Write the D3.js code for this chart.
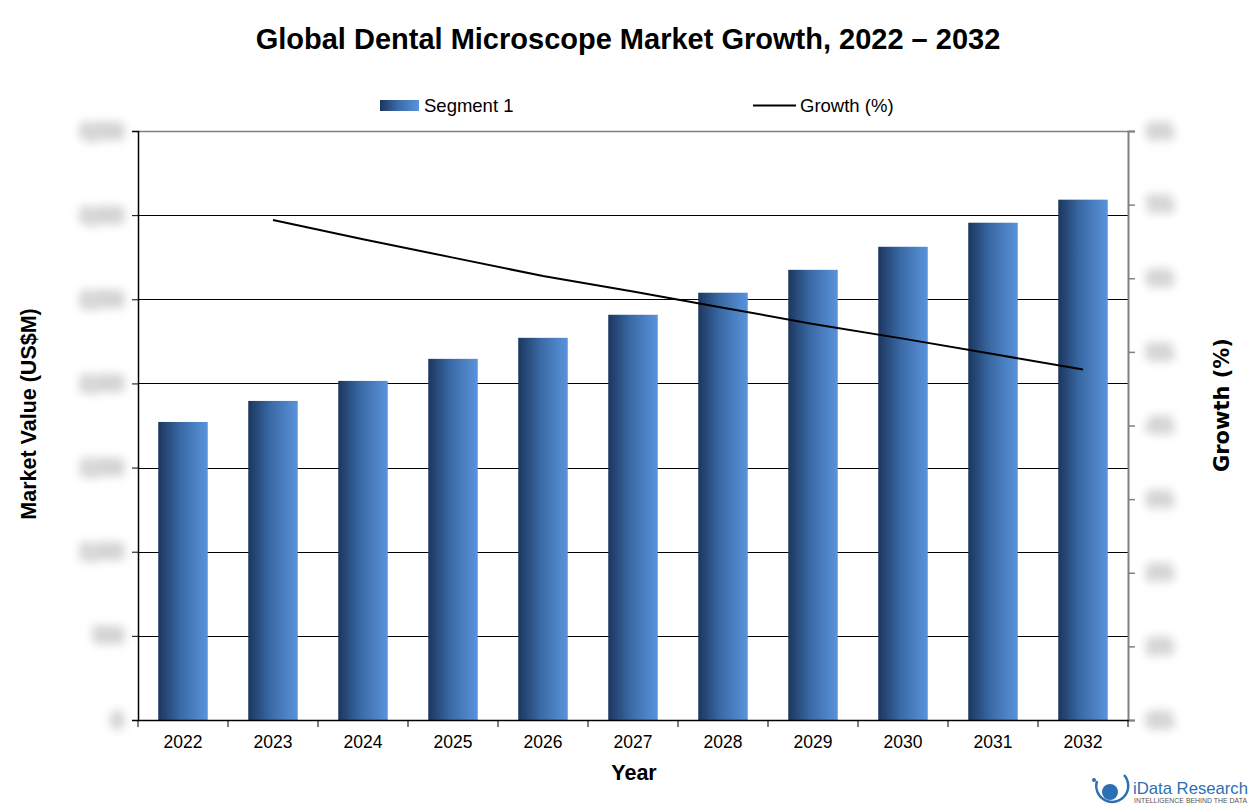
<!DOCTYPE html>
<html><head><meta charset="utf-8">
<script src="https://cdn.jsdelivr.net/npm/d3@7/dist/d3.min.js"></script>
<style>body{margin:0;background:#fff;} svg{display:block;}</style>
</head><body>
<script>
const years = ["2022","2023","2024","2025","2026","2027","2028","2029","2030","2031","2032"];
const marketValues = [1771,1896,2015,2146,2271,2408,2539,2675,2812,2955,3092];
const growthYears = ["2023","2024","2025","2026","2027","2028","2029","2030","2031","2032"];
const growthValues = [6.79,6.53,6.28,6.03,5.82,5.60,5.38,5.18,4.97,4.76];
const leftTicks = [0,500,1000,1500,2000,2500,3000,3500];
const rightTicks = [0,1,2,3,4,5,6,7,8];

const W = 1256, H = 810;
const m = {l:138, r:1128, t:131, b:720};
const svg = d3.select("body").append("svg").attr("width",W).attr("height",H);
const defs = svg.append("defs");
const grad = defs.append("linearGradient").attr("id","barGrad").attr("x1","0%").attr("x2","100%").attr("y1","0%").attr("y2","0%");
grad.append("stop").attr("offset","0%").attr("stop-color","#1b365f");
grad.append("stop").attr("offset","45%").attr("stop-color","#3a6aa6");
grad.append("stop").attr("offset","100%").attr("stop-color","#5a93dc");

const x = d3.scaleBand().domain(years).range([m.l,m.r]).paddingInner(0.45).paddingOuter(0.225);
const y = d3.scaleLinear().domain([0,3500]).range([m.b,m.t]);
const y2 = d3.scaleLinear().domain([0,8]).range([m.b,m.t]);

// title
svg.append("text").attr("x",628).attr("y",49).attr("text-anchor","middle")
  .style("font-family","Liberation Sans, Arial, sans-serif").style("font-weight","bold").style("font-size","29px")
  .text("Global Dental Microscope Market Growth, 2022 \u2013 2032");

// gridlines
svg.append("g").selectAll("line").data(leftTicks.slice(1,-1)).join("line")
  .attr("x1",m.l).attr("x2",m.r).attr("y1",d=>Math.round(y(d))+0.5).attr("y2",d=>Math.round(y(d))+0.5)
  .attr("stroke","#000").attr("stroke-width",1);
// top border
svg.append("line").attr("x1",m.l).attr("x2",m.r).attr("y1",m.t+0.5).attr("y2",m.t+0.5).attr("stroke","#808080").attr("stroke-width",1.5);

// bars
svg.append("g").selectAll("rect").data(years).join("rect")
  .attr("x",(d)=>x(d)).attr("width",x.bandwidth())
  .attr("y",(d,i)=>y(marketValues[i])).attr("height",(d,i)=>m.b-y(marketValues[i]))
  .attr("fill","url(#barGrad)");

// growth line
const line = d3.line().x((d,i)=>x(growthYears[i])+x.bandwidth()/2).y(d=>y2(d));
svg.append("path").datum(growthValues).attr("d",line).attr("fill","none").attr("stroke","#000").attr("stroke-width",2);

function smudge(sel){
  sel.attr("fill","#c9c9c9").attr("stroke","#dedede").attr("stroke-width",9)
    .attr("stroke-linejoin","round").attr("paint-order","stroke")
    .attr("font-size",16).attr("font-weight","bold").attr("font-family","Liberation Sans, Arial")
    .style("filter","blur(4px)");
}

// left axis
const ax = d3.axisLeft(y).tickValues(leftTicks).tickSize(6).tickFormat(d3.format(","));
const gl = svg.append("g").attr("transform",`translate(${m.l},0)`).call(ax);
gl.select(".domain").attr("stroke","#000").attr("stroke-width",1.5);
gl.selectAll(".tick line").attr("stroke","#000");
gl.selectAll(".tick text").attr("x",-16).attr("text-anchor","end").call(smudge);

// right axis
const ar = d3.axisRight(y2).tickValues(rightTicks).tickSize(7).tickFormat(d=>d+"%");
const gr = svg.append("g").attr("transform",`translate(${m.r},0)`).call(ar);
gr.select(".domain").attr("stroke","#808080").attr("stroke-width",2);
gr.selectAll(".tick line").attr("stroke","#808080").attr("stroke-width",1.5);
gr.selectAll(".tick text").attr("x",32).attr("text-anchor","middle").call(smudge);

// bottom axis
const ab = d3.axisBottom(x).tickSize(0);
const gb = svg.append("g").attr("transform",`translate(0,${m.b})`).call(ab);
gb.select(".domain").attr("stroke","#000").attr("stroke-width",1.5);
gb.selectAll(".tick text").attr("dy","1.45em").attr("fill","#000")
  .attr("font-family","Liberation Sans, Arial").attr("font-size",17.5);
const bounds = years.map(d=>x(d)-x.step()*x.paddingInner()/2).concat([m.r]);
gb.selectAll(".sep").data(bounds).join("line").attr("class","sep")
  .attr("x1",d=>d).attr("x2",d=>d).attr("y1",0).attr("y2",7).attr("stroke","#000");

// axis titles
svg.append("text").attr("x",634).attr("y",780).attr("text-anchor","middle")
  .style("font-family","Liberation Sans, Arial").style("font-weight","bold").style("font-size","21.5px").text("Year");
svg.append("text").attr("transform","translate(36,414) rotate(-90)").attr("text-anchor","middle")
  .style("font-family","Liberation Sans, Arial").style("font-weight","bold").style("font-size","21.5px").text("Market Value (US$M)");
svg.append("text").attr("transform","translate(1229,405) rotate(-90)").attr("text-anchor","middle")
  .style("font-family","DejaVu Sans, Verdana").style("font-weight","bold").style("font-size","21px").text("Growth (%)");

// legend
svg.append("rect").attr("x",380).attr("y",100).attr("width",39).attr("height",11).attr("fill","url(#barGrad)");
svg.append("text").attr("x",424).attr("y",112).style("font-family","Liberation Sans, Arial").style("font-size","18.5px").text("Segment 1");
svg.append("line").attr("x1",753).attr("x2",796).attr("y1",105.5).attr("y2",105.5).attr("stroke","#000").attr("stroke-width",2);
svg.append("text").attr("x",800).attr("y",112).style("font-family","Liberation Sans, Arial").style("font-size","18.5px").text("Growth (%)");

// logo
const lg = svg.append("g");
lg.append("path").attr("d","M1097,781 A16,16 0 1,0 1124,775").attr("fill","none").attr("stroke","#2d6fb3").attr("stroke-width",2.5);
lg.append("circle").attr("cx",1110).attr("cy",792).attr("r",8).attr("fill","#2d6fb3");
lg.append("circle").attr("cx",1094).attr("cy",780).attr("r",2).attr("fill","#2d6fb3");
lg.append("text").attr("x",1133).attr("y",794).attr("textLength",115).attr("lengthAdjust","spacingAndGlyphs")
  .style("font-family","Liberation Sans, Arial").style("font-size","17px").attr("fill","#2d6fb3").text("iData Research");
lg.append("text").attr("x",1134).attr("y",803).attr("textLength",113).attr("lengthAdjust","spacingAndGlyphs")
  .style("font-family","Liberation Sans, Arial").style("font-size","7px").attr("fill","#555").text("INTELLIGENCE BEHIND THE DATA");
</script>
</body></html>
